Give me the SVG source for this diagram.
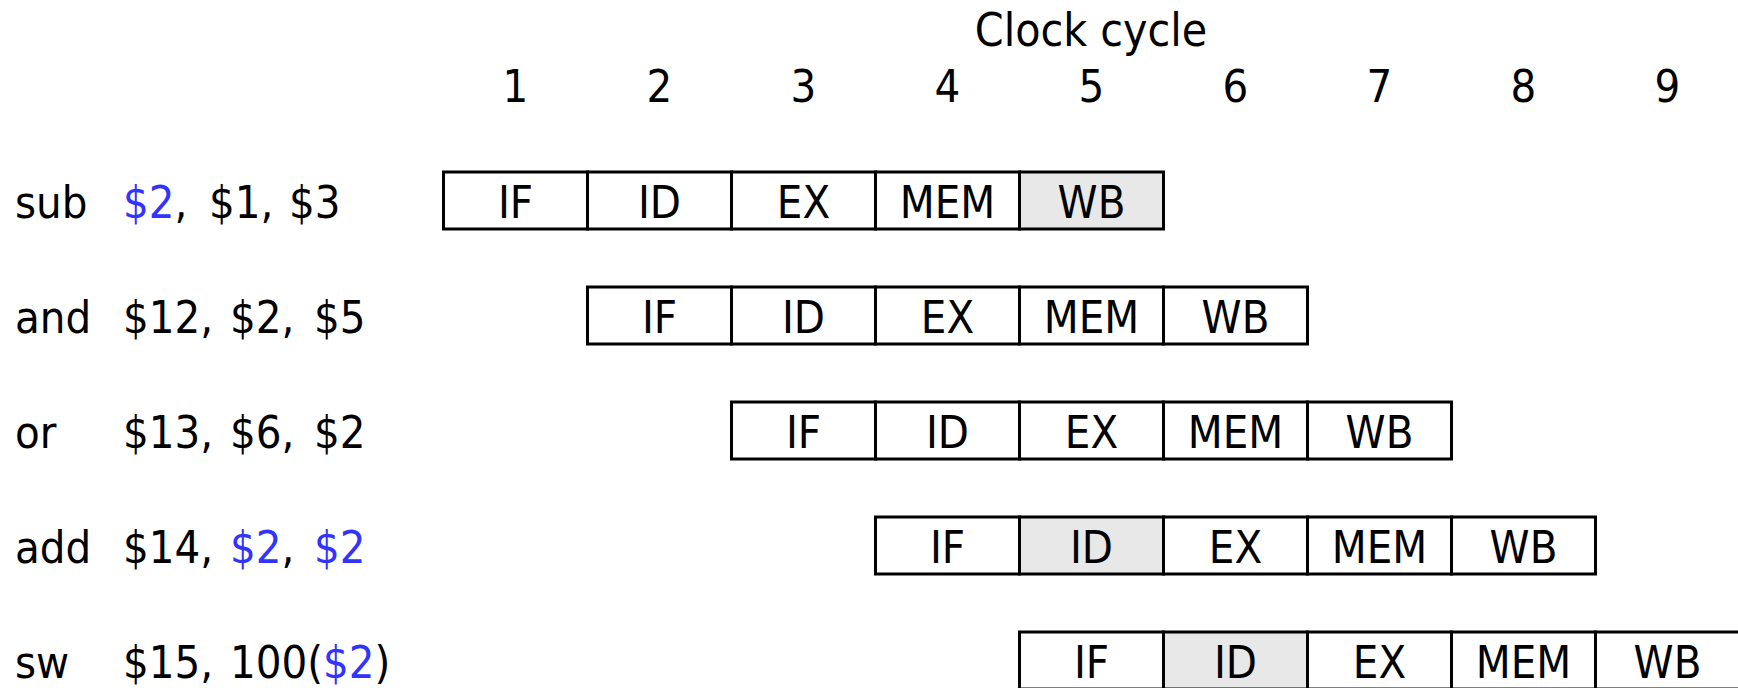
<svg xmlns="http://www.w3.org/2000/svg" width="1738" height="688" viewBox="0 0 1738 688">
<style>
text{font-family:'DejaVu Sans Condensed','DejaVu Sans',sans-serif;font-stretch:condensed;font-size:45px;fill:#000}
.c{text-anchor:middle}
.b{fill:#3333ff}
.cell{fill:#fff;stroke:#000;stroke-width:3}
.sh{fill:#e8e8e8;stroke:#000;stroke-width:3}
</style>
<rect width="1738" height="688" fill="#fff"/>
<g id="header">
<text class="c" x="1091" y="46" style="font-size:46px">Clock cycle</text>
<text class="c" x="515.5" y="102">1</text>
<text class="c" x="659.5" y="102">2</text>
<text class="c" x="803.5" y="102">3</text>
<text class="c" x="947.5" y="102">4</text>
<text class="c" x="1091.5" y="102">5</text>
<text class="c" x="1235.5" y="102">6</text>
<text class="c" x="1379.5" y="102">7</text>
<text class="c" x="1523.5" y="102">8</text>
<text class="c" x="1667.5" y="102">9</text>
</g>
<g id="instructions">
<g id="instr-sub">
<text x="15" y="218">sub</text>
<text x="123" y="218"><tspan class="b">$2</tspan>,</text>
<text x="209" y="218">$1,</text>
<text x="289" y="218">$3</text>
</g>
<g id="instr-and">
<text x="15" y="333">and</text>
<text x="123" y="333">$12,</text>
<text x="230" y="333">$2,</text>
<text x="314" y="333">$5</text>
</g>
<g id="instr-or">
<text x="15" y="448">or</text>
<text x="123" y="448">$13,</text>
<text x="230" y="448">$6,</text>
<text x="314" y="448">$2</text>
</g>
<g id="instr-add">
<text x="15" y="563">add</text>
<text x="123" y="563">$14,</text>
<text x="230" y="563"><tspan class="b">$2</tspan>,</text>
<text x="314" y="563" class="b">$2</text>
</g>
<g id="instr-sw">
<text x="15" y="678">sw</text>
<text x="123" y="678">$15,</text>
<text x="230" y="678">100(<tspan class="b">$2</tspan>)</text>
</g>
</g>
<g id="pipe-sub">
<rect class="cell" x="443.5" y="172" width="144" height="57"/>
<rect class="cell" x="587.5" y="172" width="144" height="57"/>
<rect class="cell" x="731.5" y="172" width="144" height="57"/>
<rect class="cell" x="875.5" y="172" width="144" height="57"/>
<rect class="sh" x="1019.5" y="172" width="144" height="57"/>
<text class="c" x="515.5" y="218">IF</text>
<text class="c" x="659.5" y="218">ID</text>
<text class="c" x="803.5" y="218">EX</text>
<text class="c" x="947.5" y="218">MEM</text>
<text class="c" x="1091.5" y="218">WB</text>
</g>
<g id="pipe-and">
<rect class="cell" x="587.5" y="287" width="144" height="57"/>
<rect class="cell" x="731.5" y="287" width="144" height="57"/>
<rect class="cell" x="875.5" y="287" width="144" height="57"/>
<rect class="cell" x="1019.5" y="287" width="144" height="57"/>
<rect class="cell" x="1163.5" y="287" width="144" height="57"/>
<text class="c" x="659.5" y="333">IF</text>
<text class="c" x="803.5" y="333">ID</text>
<text class="c" x="947.5" y="333">EX</text>
<text class="c" x="1091.5" y="333">MEM</text>
<text class="c" x="1235.5" y="333">WB</text>
</g>
<g id="pipe-or">
<rect class="cell" x="731.5" y="402" width="144" height="57"/>
<rect class="cell" x="875.5" y="402" width="144" height="57"/>
<rect class="cell" x="1019.5" y="402" width="144" height="57"/>
<rect class="cell" x="1163.5" y="402" width="144" height="57"/>
<rect class="cell" x="1307.5" y="402" width="144" height="57"/>
<text class="c" x="803.5" y="448">IF</text>
<text class="c" x="947.5" y="448">ID</text>
<text class="c" x="1091.5" y="448">EX</text>
<text class="c" x="1235.5" y="448">MEM</text>
<text class="c" x="1379.5" y="448">WB</text>
</g>
<g id="pipe-add">
<rect class="cell" x="875.5" y="517" width="144" height="57"/>
<rect class="sh" x="1019.5" y="517" width="144" height="57"/>
<rect class="cell" x="1163.5" y="517" width="144" height="57"/>
<rect class="cell" x="1307.5" y="517" width="144" height="57"/>
<rect class="cell" x="1451.5" y="517" width="144" height="57"/>
<text class="c" x="947.5" y="563">IF</text>
<text class="c" x="1091.5" y="563">ID</text>
<text class="c" x="1235.5" y="563">EX</text>
<text class="c" x="1379.5" y="563">MEM</text>
<text class="c" x="1523.5" y="563">WB</text>
</g>
<g id="pipe-sw">
<rect class="cell" x="1019.5" y="632" width="144" height="57"/>
<rect class="sh" x="1163.5" y="632" width="144" height="57"/>
<rect class="cell" x="1307.5" y="632" width="144" height="57"/>
<rect class="cell" x="1451.5" y="632" width="144" height="57"/>
<rect class="cell" x="1595.5" y="632" width="144" height="57"/>
<text class="c" x="1091.5" y="678">IF</text>
<text class="c" x="1235.5" y="678">ID</text>
<text class="c" x="1379.5" y="678">EX</text>
<text class="c" x="1523.5" y="678">MEM</text>
<text class="c" x="1667.5" y="678">WB</text>
</g>
<g id="connectors"/>
</svg>
